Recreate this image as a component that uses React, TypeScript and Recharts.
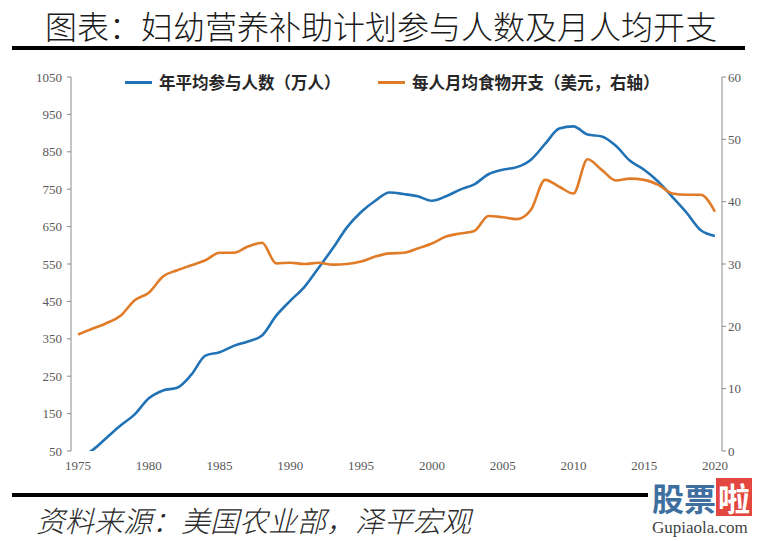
import React from 'react';
import { LineChart, Line, XAxis, YAxis } from 'recharts';

const years = [
  1975, 1976, 1977, 1978, 1979, 1980, 1981, 1982, 1983, 1984,
  1985, 1986, 1987, 1988, 1989, 1990, 1991, 1992, 1993, 1994,
  1995, 1996, 1997, 1998, 1999, 2000, 2001, 2002, 2003, 2004,
  2005, 2006, 2007, 2008, 2009, 2010, 2011, 2012, 2013, 2014,
  2015, 2016, 2017, 2018, 2019, 2020,
];

// 年平均参与人数（万人）
const participants = [
  34, 52, 85, 118, 148, 191, 212, 219, 254, 305,
  314, 331, 343, 359, 412, 452, 489, 540, 592, 648,
  689, 719, 741, 737, 731, 719, 731, 749, 763, 790,
  802, 809, 829, 871, 912, 918, 896, 891, 866, 826,
  802, 770, 729, 687, 640, 625,
];

// 每人月均食物开支（美元，右轴）
const foodCost = [
  18.7, 19.6, 20.5, 21.7, 24.2, 25.4, 28.0, 29.0, 29.8, 30.6,
  31.8, 31.8, 32.8, 33.4, 30.1, 30.2, 30.0, 30.2, 29.9, 30.0,
  30.4, 31.2, 31.7, 31.8, 32.5, 33.3, 34.4, 34.9, 35.3, 37.7,
  37.5, 37.2, 38.7, 43.5, 42.4, 41.3, 46.8, 45.1, 43.4, 43.7,
  43.5, 42.7, 41.3, 41.1, 41.1, 38.4,
];

const leftTicks = [50, 150, 250, 350, 450, 550, 650, 750, 850, 950, 1050];
const rightTicks = [0, 10, 20, 30, 40, 50, 60];
const labelYears = [1975, 1980, 1985, 1990, 1995, 2000, 2005, 2010, 2015, 2020];

const BLUE = '#2272b6';
const ORANGE = '#e07b28';
const AXIS = '#8a8a8a';
const TICK_TEXT = '#595959';

const data = years.map((year, i) => ({
  year,
  participants: participants[i],
  foodCost: foodCost[i],
}));

// tick marks sit between the yearly categories
const yearEdges = [...years.map((y) => y - 0.5), years[years.length - 1] + 0.5];
const xDomain = [years[0] - 0.5, years[years.length - 1] + 0.5];

const tickStyle = { fill: TICK_TEXT, fontSize: 13, fontFamily: '"Liberation Serif", serif' };
const cjk = '"Noto Sans CJK SC", sans-serif';

const LegendItem = ({ color, label, left }: { color: string; label: string; left: number }) => (
  <div style={{ position: 'absolute', left, top: 71, display: 'flex', alignItems: 'center' }}>
    <div style={{ width: 27, height: 3, background: color, marginRight: 7 }} />
    <span style={{ fontFamily: cjk, fontSize: 16.5, fontWeight: 700, color: '#262626', lineHeight: '22px' }}>
      {label}
    </span>
  </div>
);

export default function App() {
  return (
    <div style={{ position: 'absolute', left: 0, top: 0, width: 762, height: 541, background: '#fff', overflow: 'hidden' }}>
      <div
        style={{
          position: 'absolute', left: 0, top: 7, width: 762, textAlign: 'center',
          fontFamily: cjk, fontSize: 32, lineHeight: '36px', color: '#1a1a1a', fontWeight: 300,
        }}
      >
        图表：妇幼营养补助计划参与人数及月人均开支
      </div>
      <div style={{ position: 'absolute', left: 12, top: 46, width: 733, height: 4, background: '#000' }} />

      <div style={{ position: 'absolute', left: 0, top: 0 }}>
        <LineChart width={762} height={541} data={data} margin={{ top: 77, right: 0, bottom: 60, left: 0 }}>
          <XAxis
            xAxisId="edges"
            dataKey="year"
            type="number"
            domain={xDomain}
            ticks={yearEdges}
            tick={false}
            tickSize={4}
            height={0}
            stroke={AXIS}
            interval={0}
          />
          <XAxis
            xAxisId="labels"
            dataKey="year"
            type="number"
            domain={xDomain}
            ticks={labelYears}
            axisLine={false}
            tickLine={false}
            tickSize={4}
            tickMargin={6}
            height={30}
            tick={tickStyle}
            interval={0}
          />
          <YAxis
            yAxisId="left"
            domain={[50, 1050]}
            ticks={leftTicks}
            allowDataOverflow
            width={71}
            tickSize={4}
            tickMargin={5}
            stroke={AXIS}
            tick={tickStyle}
            interval={0}
          />
          <YAxis
            yAxisId="right"
            orientation="right"
            domain={[0, 60]}
            ticks={rightTicks}
            width={40}
            tickSize={4}
            tickMargin={2}
            stroke={AXIS}
            tick={tickStyle}
            interval={0}
          />
          <Line
            xAxisId="edges"
            yAxisId="left"
            type="monotone"
            dataKey="participants"
            stroke={BLUE}
            strokeWidth={2.6}
            dot={false}
            isAnimationActive={false}
          />
          <Line
            xAxisId="edges"
            yAxisId="right"
            type="monotone"
            dataKey="foodCost"
            stroke={ORANGE}
            strokeWidth={2.6}
            dot={false}
            isAnimationActive={false}
          />
        </LineChart>
      </div>

      <LegendItem color={BLUE} label="年平均参与人数（万人）" left={125} />
      <LegendItem color={ORANGE} label="每人月均食物开支（美元，右轴）" left={378} />

      <div style={{ position: 'absolute', left: 12, top: 493, width: 636, height: 4, background: '#000' }} />
      <div
        style={{
          position: 'absolute', left: 36, top: 502, fontFamily: cjk, fontSize: 29, lineHeight: '34px',
          fontStyle: 'italic', color: '#2a2a2a', fontWeight: 300, whiteSpace: 'nowrap',
        }}
      >
        资料来源：美国农业部，泽平宏观
      </div>

      <div style={{ position: 'absolute', left: 652, top: 478, display: 'flex', alignItems: 'center', fontFamily: cjk, fontWeight: 700, fontSize: 32, lineHeight: '38px' }}>
        <span style={{ color: '#3f6f9f' }}>股票</span>
        <span style={{ color: '#fff', background: '#e4473f', padding: '0 2px' }}>啦</span>
      </div>
      <div style={{ position: 'absolute', left: 652, top: 518, fontFamily: '"Liberation Serif", serif', fontSize: 17, color: '#444' }}>
        Gupiaola.com
      </div>
    </div>
  );
}
